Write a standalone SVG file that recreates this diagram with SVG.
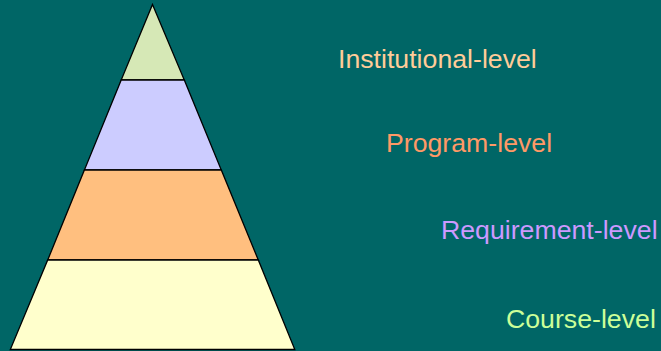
<svg xmlns="http://www.w3.org/2000/svg" width="661" height="351" viewBox="0 0 661 351">
  <style>
    .tier { stroke: #000000; stroke-width: 1.3; stroke-linejoin: miter; }
    .label { font-family: "Liberation Sans", Arial, sans-serif; font-size: 26.7px; }
  </style>
  <rect x="0" y="0" width="661" height="351" fill="#006666"/>

  <!-- pyramid tiers, top to bottom -->
  <g id="tier-institutional">
    <polygon class="tier" fill="#D6E8B6" points="152.5,4.5 184.3,80 121.2,80"/>
  </g>
  <g id="tier-program">
    <polygon class="tier" fill="#CCCCFF" points="121.2,80 184.3,80 221.3,170 84.4,170"/>
  </g>
  <g id="tier-requirement">
    <polygon class="tier" fill="#FFBF7F" points="84.4,170 221.3,170 258.3,260 47.7,260"/>
  </g>
  <g id="tier-course">
    <polygon class="tier" fill="#FFFFCC" points="47.7,260 258.3,260 294.8,349.5 10.3,349.5"/>
  </g>

  <!-- level labels -->
  <g id="label-institutional">
    <text class="label" x="338" y="68" fill="#FFCC99">Institutional-level</text>
  </g>
  <g id="label-program">
    <text class="label" x="386" y="152" fill="#FF9966">Program-level</text>
  </g>
  <g id="label-requirement">
    <text class="label" x="441" y="239" fill="#CC99FF">Requirement-level</text>
  </g>
  <g id="label-course">
    <text class="label" x="506" y="328" fill="#CCFF99">Course-level</text>
  </g>
</svg>
